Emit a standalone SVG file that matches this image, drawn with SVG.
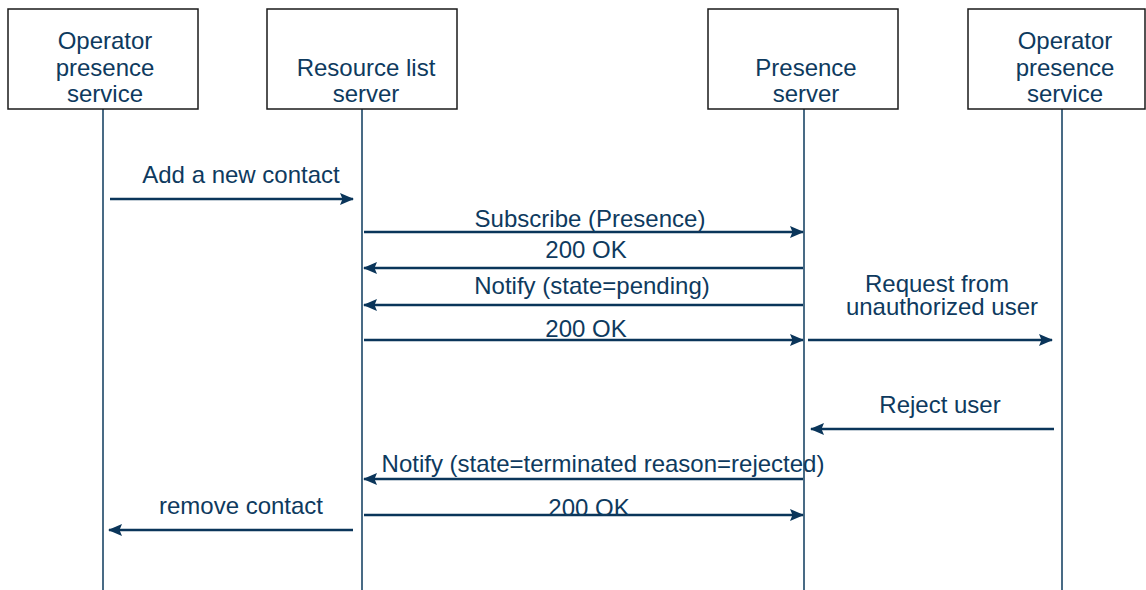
<svg xmlns="http://www.w3.org/2000/svg" width="1146" height="590" viewBox="0 0 1146 590">
<style>
.box{fill:#fff;stroke:#1a1a1a;stroke-width:1.5}
.life{stroke:#0d3a5c;stroke-width:1.5;fill:none}
.msg{stroke:#0a355a;stroke-width:2.6;fill:none;marker-end:url(#ah)}
text{font-family:"Liberation Sans",Arial,sans-serif;font-size:24px;fill:#0e3a5e;text-anchor:middle}
</style>
<defs>
<marker id="ah" markerUnits="userSpaceOnUse" markerWidth="14" markerHeight="12" refX="13" refY="6" orient="auto">
<path d="M0,0 L14,6 L0,12 L2.5,6 Z" fill="#0a355a"/>
</marker>
</defs>
<rect width="1146" height="590" fill="#fff"/>
<g id="lifelines">
<line class="life" x1="103" y1="109" x2="103" y2="590"/>
<line class="life" x1="362" y1="109" x2="362" y2="590"/>
<line class="life" x1="804" y1="109" x2="804" y2="590"/>
<line class="life" x1="1062" y1="109" x2="1062" y2="590"/>
</g>
<g id="node-ops1">
<rect class="box" x="8" y="9" width="190" height="100"/>
<text x="105" y="49">Operator</text>
<text x="105" y="76">presence</text>
<text x="105" y="102">service</text>
</g>
<g id="node-rls">
<rect class="box" x="267" y="9" width="190" height="100"/>
<text x="366" y="76">Resource list</text>
<text x="366" y="102">server</text>
</g>
<g id="node-ps">
<rect class="box" x="708" y="9" width="190" height="100"/>
<text x="806" y="76">Presence</text>
<text x="806" y="102">server</text>
</g>
<g id="node-ops2">
<rect class="box" x="968" y="9" width="177" height="100"/>
<text x="1065" y="49">Operator</text>
<text x="1065" y="76">presence</text>
<text x="1065" y="102">service</text>
</g>
<g id="connectors">
<line class="msg" x1="110" y1="199" x2="353" y2="199"/>
<line class="msg" x1="364" y1="232" x2="803" y2="232"/>
<line class="msg" x1="803" y1="268" x2="364" y2="268"/>
<line class="msg" x1="803" y1="305" x2="364" y2="305"/>
<line class="msg" x1="364" y1="340" x2="803" y2="340"/>
<line class="msg" x1="808" y1="340" x2="1052" y2="340"/>
<line class="msg" x1="1054" y1="429" x2="811" y2="429"/>
<line class="msg" x1="803" y1="479" x2="364" y2="479"/>
<line class="msg" x1="364" y1="515" x2="803" y2="515"/>
<line class="msg" x1="353" y1="530" x2="109" y2="530"/>
</g>
<g id="labels">
<text x="241" y="183">Add a new contact</text>
<text x="590" y="227">Subscribe (Presence)</text>
<text x="586" y="258">200 OK</text>
<text x="592" y="294">Notify (state=pending)</text>
<text x="586" y="337">200 OK</text>
<text x="937" y="292">Request from</text>
<text x="942" y="315">unauthorized user</text>
<text x="940" y="413">Reject user</text>
<text x="603" y="472">Notify (state=terminated reason=rejected)</text>
<text x="589" y="516">200 OK</text>
<text x="241" y="514">remove contact</text>
</g>
</svg>
